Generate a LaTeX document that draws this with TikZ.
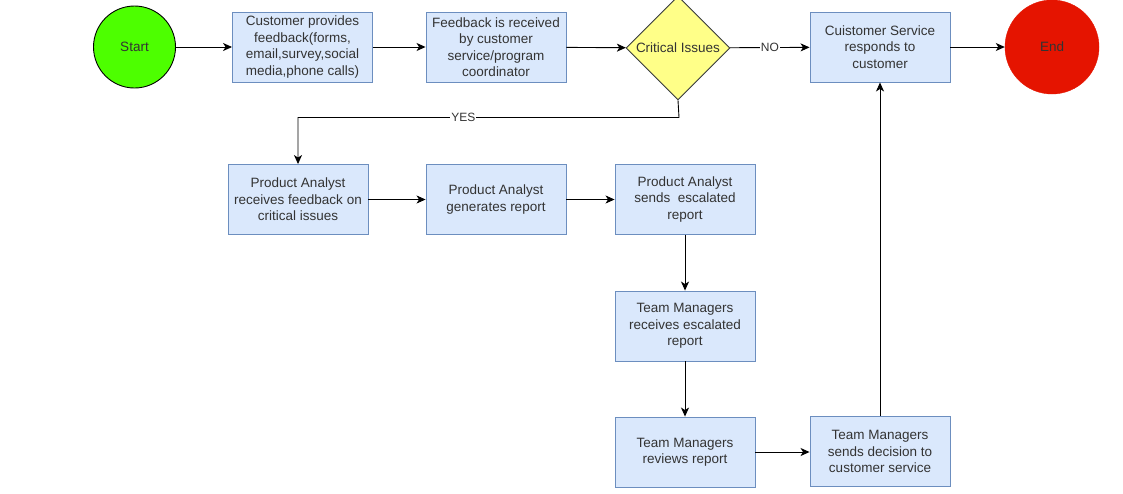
\documentclass[tikz,border=0pt]{standalone}
\usepackage{fontspec}
\setmainfont{Liberation Sans}
\usetikzlibrary{shapes.geometric,arrows.meta}
\definecolor{boxfill}{HTML}{DAE8FC}
\definecolor{boxline}{HTML}{6C8EBF}
\definecolor{diafill}{HTML}{FFFF88}
\definecolor{dialine}{HTML}{36393D}
\definecolor{startfill}{HTML}{4DFF00}
\definecolor{endfill}{HTML}{E51400}
\definecolor{txt}{HTML}{333333}
\begin{document}
\begin{tikzpicture}[x=1pt,y=-1pt,
  every node/.style={font=\fontsize{13.5}{16.5}\selectfont, text=txt},
  procbox/.style={draw=boxline, fill=boxfill, line width=0.9pt, minimum width=140pt, minimum height=70pt, inner sep=0pt, align=center},
  conn/.style={draw=black, line width=0.9pt, -{Stealth[length=9pt,width=8pt,inset=2.5pt]}},
  lbl/.style={fill=white, inner sep=1pt, font=\fontsize{12}{14}\selectfont}]
\useasboundingbox (0,0) rectangle (1123,493);
\fill[white] (0,0) rectangle (1123,493);

\node[circle, draw=black, fill=startfill, line width=0.9pt, minimum size=82pt, inner sep=0pt] (start) at (134.5,47) {Start};
\node[procbox] (b1) at (302.5,47) {Customer provides\\feedback(forms,\\email,survey,social\\media,phone calls)};
\node[procbox] (b2) at (496,47) {Feedback is received\\by customer\\service/program\\coordinator};
\node[diamond, draw=dialine, fill=diafill, line width=0.9pt, minimum width=104pt, minimum height=104pt, inner sep=0pt] (dia) at (678,48) {};
\node (diatext) at (dia) {Critical Issues};
\node[procbox] (cs) at (880,47) {Cuistomer Service\\responds to\\customer};
\node[circle, draw=endfill, fill=endfill, minimum size=94pt, inner sep=0pt] (end) at (1052,47) {End};

\node[procbox] (pa1) at (298,199.5) {Product Analyst\\receives feedback on\\critical issues};
\node[procbox] (pa2) at (496,199.5) {Product Analyst\\generates report};
\node[procbox] (pa3) at (685,199.5) {Product Analyst\\sends~ escalated\\report};
\node[procbox] (tm1) at (685,326) {Team Managers\\receives escalated\\report};
\node[procbox] (tm2) at (685,452) {Team Managers\\reviews report};
\node[procbox] (tm3) at (880,451.5) {Team Managers\\sends decision to\\customer service};

\coordinate (yc) at (679,117.5);
\coordinate (yl) at (298,117.5);

\draw[conn] (start) -- (b1);
\draw[conn] (b1) -- (b2);
\draw[conn] (b2) -- (dia);
\draw[conn] (dia) -- node[lbl] {NO} (cs);
\draw[conn] (cs) -- (end);
\draw[conn] (dia.south) -- (yc) -- node[lbl, pos=0.566] {YES} (yl) -- (pa1.north);
\draw[conn] (pa1) -- (pa2);
\draw[conn] (pa2) -- (pa3);
\draw[conn] (pa3) -- (tm1);
\draw[conn] (tm1) -- (tm2);
\draw[conn] (tm2.east) -- (tm2.east -| tm3.west);
\draw[conn] (tm3) -- (cs);
\end{tikzpicture}
\end{document}
